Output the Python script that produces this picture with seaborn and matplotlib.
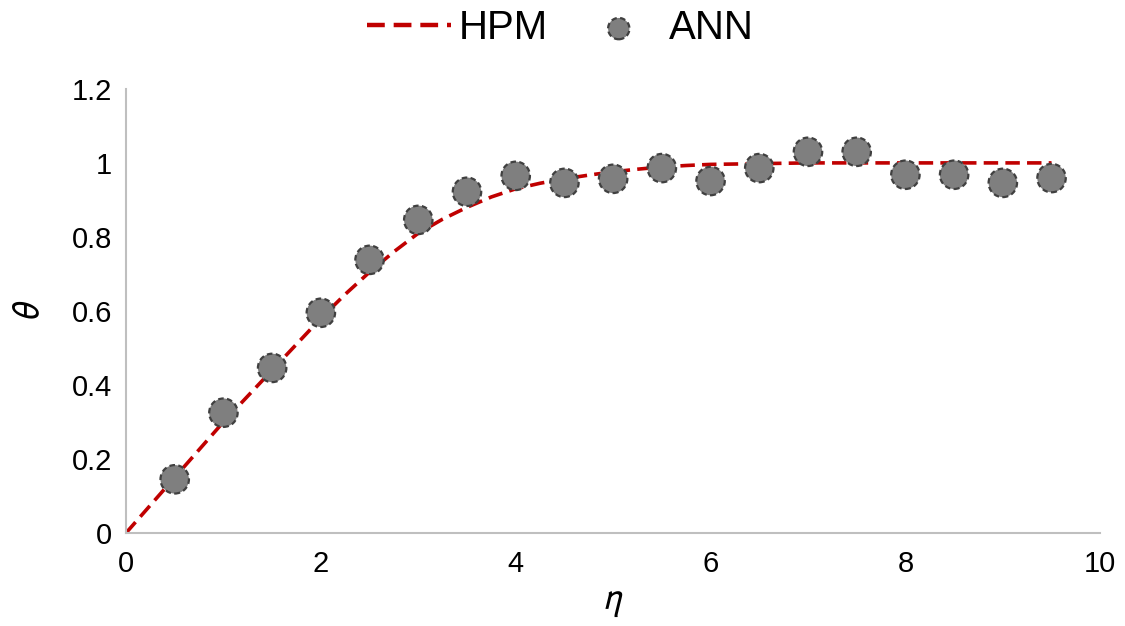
import numpy as np
import pandas as pd
import matplotlib
matplotlib.use('Agg')
import matplotlib.pyplot as plt
import seaborn as sns

# HPM solution curve
eta_hpm = [0, 0.25, 0.5, 0.75, 1, 1.25, 1.5, 1.75, 2, 2.25, 2.5, 2.75, 3, 3.25,
           3.5, 3.75, 4, 4.25, 4.5, 4.75, 5, 5.25, 5.5, 5.75, 6, 6.5, 7, 7.5,
           8, 8.5, 9, 9.5]
theta_hpm = [0, 0.075, 0.15, 0.225, 0.30, 0.37, 0.44, 0.51, 0.58, 0.645, 0.705,
             0.76, 0.81, 0.848, 0.88, 0.908, 0.93, 0.945, 0.957, 0.967, 0.976,
             0.983, 0.989, 0.993, 0.996, 0.998, 1.0, 1.0, 1.0, 1.0, 1.0, 1.0]

# ANN points
eta_ann = [0.5, 1, 1.5, 2, 2.5, 3, 3.5, 4, 4.5, 5, 5.5, 6, 6.5, 7, 7.5, 8,
           8.5, 9, 9.5]
theta_ann = [0.145, 0.325, 0.446, 0.595, 0.738, 0.846, 0.922, 0.965, 0.946,
             0.957, 0.986, 0.951, 0.986, 1.03, 1.03, 0.968, 0.968, 0.946, 0.959]

hpm = pd.DataFrame({'eta': eta_hpm, 'theta': theta_hpm})
ann = pd.DataFrame({'eta': eta_ann, 'theta': theta_ann})

sns.set_style('white', rc={'text.color': 'black', 'axes.labelcolor': 'black',
                           'xtick.color': 'black', 'ytick.color': 'black'})
plt.rcParams['font.family'] = ['Liberation Sans', 'DejaVu Sans']
plt.rcParams['mathtext.fontset'] = 'stixsans'

fig = plt.figure(figsize=(11.25, 6.26), dpi=100)
ax = fig.add_axes([0.112, 0.1486, 0.866, 0.7094])

sns.lineplot(data=hpm, x='eta', y='theta', ax=ax, color='#c00000',
             linewidth=2.6, label='HPM')
ax.lines[0].set_dashes([4, 2])
sns.scatterplot(data=ann, x='eta', y='theta', ax=ax, s=420,
                color='#7f7f7f', edgecolor='#404040', linewidth=1.6,
                linestyle=(0, (2.5, 1.5)), label='ANN', zorder=3)

ax.set_xlim(0, 10)
ax.set_ylim(0, 1.2)
ax.set_xticks([0, 2, 4, 6, 8, 10])
ax.set_yticks([0, 0.2, 0.4, 0.6, 0.8, 1, 1.2])
ax.set_yticklabels(['0', '0.2', '0.4', '0.6', '0.8', '1', '1.2'])
ax.tick_params(axis='both', labelsize=21, length=0)
ax.tick_params(axis='x', pad=12)
ax.tick_params(axis='y', pad=10)
ax.set_xlabel(r'$\eta$', fontsize=27, labelpad=4)
ax.set_ylabel(r'$\theta$', fontsize=27, labelpad=18)

sns.despine(ax=ax)
for s in ['left', 'bottom']:
    ax.spines[s].set_color('#bfbfbf')
    ax.spines[s].set_linewidth(1.5)

leg = ax.legend(loc='center', bbox_to_anchor=(0.498, 0.955), bbox_transform=fig.transFigure,
                ncol=2, frameon=False, fontsize=29, columnspacing=0.7,
                handlelength=2.1, handletextpad=0.2, markerscale=0.75)
leg.get_lines()[0].set_linewidth(3.2)

fig.savefig('out.png', dpi=100)
